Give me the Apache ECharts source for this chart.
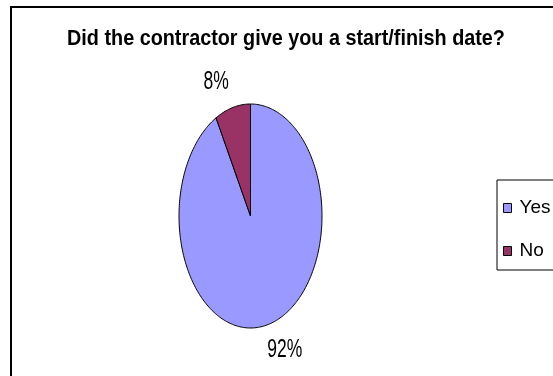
<!DOCTYPE html>
<html>
<head>
<meta charset="utf-8">
<style>
  html, body { margin: 0; padding: 0; background: #fff; }
  #chart { width: 553px; height: 376px; }
</style>
<script src="https://cdn.jsdelivr.net/npm/echarts@6/dist/echarts.min.js"></script>
</head>
<body>
<div id="chart"></div>
<script>
// Survey answers
const categories = ['Yes', 'No'];
const values = [92, 8];
const colors = ['#9999FF', '#993366'];
const titleText = 'Did the contractor give you a start/finish date?';

const FONT = '"Liberation Sans", Arial, sans-serif';

// Elliptical pie geometry (the pie is taller than it is wide)
const pie = { cx: 250.5, cy: 216, rx: 71.5, ry: 112, labelR: 138 };
const total = values.reduce((a, b) => a + b, 0);

// Start angle (in value units, clockwise from 12 o'clock) for each slice
const starts = [];
values.reduce((acc, v, i) => { starts[i] = acc; return acc + v; }, 0);

function sliceRenderer(idx) {
  return function (params, api) {
    const v = api.value(0);
    const a0 = starts[idx] / total * 360;
    const a1 = a0 + v / total * 360;
    const pts = [[pie.cx, pie.cy]];
    const steps = Math.max(2, Math.ceil(a1 - a0));
    for (let s = 0; s <= steps; s++) {
      const a = (a0 + (a1 - a0) * s / steps) * Math.PI / 180;
      pts.push([pie.cx + pie.rx * Math.sin(a), pie.cy - pie.ry * Math.cos(a)]);
    }
    const mid = ((a0 + a1) / 2) * Math.PI / 180;
    const pct = Math.round(v / total * 100) + '%';
    return {
      type: 'group',
      children: [
        {
          type: 'polygon',
          shape: { points: pts },
          style: { fill: colors[idx], stroke: '#000', lineWidth: 1 }
        },
        {
          // narrow, tall percentage label
          type: 'text',
          x: pie.cx + pie.labelR * Math.sin(mid),
          y: pie.cy - pie.labelR * Math.cos(mid),
          scaleX: 0.7,
          style: {
            text: pct,
            x: 0,
            y: 0,
            align: 'center',
            verticalAlign: 'middle',
            fontFamily: FONT,
            fontSize: 25,
            fill: '#000'
          }
        }
      ]
    };
  };
}

const chart = echarts.init(document.getElementById('chart'), null, { renderer: 'canvas' });

chart.setOption({
  backgroundColor: '#fff',
  animation: false,
  legend: {
    orient: 'vertical',
    left: 497,
    top: 180,
    data: categories,
    icon: 'rect',
    itemWidth: 8,
    itemHeight: 9,
    itemGap: 23,
    padding: [18, 40, 9, 6],
    borderColor: '#000',
    borderWidth: 1,
    backgroundColor: '#fff',
    itemStyle: { borderColor: '#000', borderWidth: 1 },
    textStyle: { fontFamily: FONT, fontSize: 19, color: '#000', lineHeight: 20, padding: [0, 0, 0, 3] }
  },
  graphic: [
    {
      // chart frame
      type: 'rect',
      shape: { x: 11, y: 7, width: 700, height: 500 },
      style: { fill: null, stroke: '#000', lineWidth: 2 },
      z: -1
    },
    {
      // chart title, condensed bold face
      type: 'text',
      x: 286,
      y: 39,
      scaleX: 0.9,
      style: {
        text: titleText,
        align: 'center',
        verticalAlign: 'middle',
        fontFamily: FONT,
        fontSize: 22,
        fontWeight: 'bold',
        fill: '#000'
      }
    }
  ],
  series: categories.map((name, i) => ({
    type: 'custom',
    name: name,
    coordinateSystem: 'none',
    color: colors[i],
    data: [[values[i]]],
    renderItem: sliceRenderer(i)
  }))
});
</script>
</body>
</html>
